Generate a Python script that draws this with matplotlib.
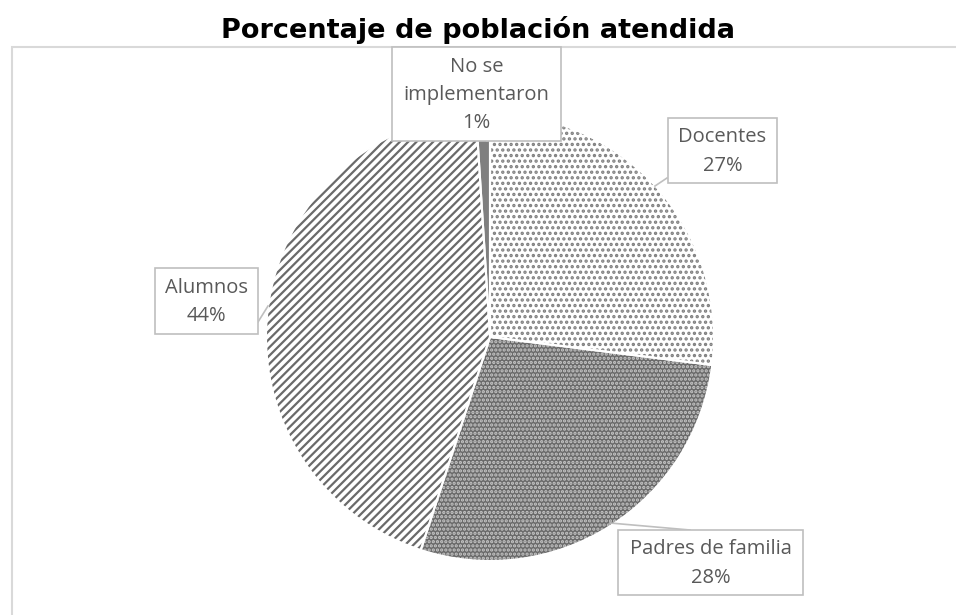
import matplotlib
matplotlib.use("Agg")
import matplotlib.pyplot as plt
import matplotlib.patches as mpatches

# data
categories = ['Docentes', 'Padres de familia', 'Alumnos', 'No se implementaron']
values = [27, 28, 44, 1]
label_text = ['Docentes\n27%', 'Padres de familia\n28%', 'Alumnos\n44%',
              'No se\nimplementaron\n1%']

W, H = 956, 615
plt.rcParams['hatch.linewidth'] = 1.6

fig = plt.figure(figsize=(W / 100, H / 100), dpi=100)
ax = fig.add_axes([0, 0, 1, 1])

def py(y):
    # pixel row -> data y
    return H - y

cx, cy, r = 490, py(337), 224
faces = ['white', '#6a6a6a', 'white', '#7f7f7f']
hatch_cols = ['#7f7f7f', '#c8c8c8', '#6a6a6a', '#7f7f7f']
hatches = ['...', '....', '////', None]

wedges, _ = ax.pie(values, startangle=90, counterclock=False,
                   center=(cx, cy), radius=r, frame=False)
for w, fc, hc, h in zip(wedges, faces, hatch_cols, hatches):
    w.set_facecolor(fc)
    w.set_edgecolor(hc)
    w.set_linewidth(0)
    if h:
        w.set_hatch(h)

# white separators between slices
sep, _ = ax.pie(values, startangle=90, counterclock=False,
                center=(cx, cy), radius=r, frame=False,
                wedgeprops=dict(fill=False, edgecolor='white', linewidth=1.5))

# chart area border
ax.add_patch(mpatches.Rectangle((12, py(620)), 960, 620 - 47, fill=False,
                                edgecolor='#d9d9d9', linewidth=1.5, zorder=0))

# callout boxes: (x0, y0, x1, y1) in pixels, leader line points
boxes = [(668, 118, 777, 183), (618, 530, 803, 595), (155, 268, 258, 334),
         (392, 47, 561, 141)]
leaders = [[(667, 178), (655, 186)], [(690, 530), (610, 523)],
           [(258, 322), (268, 306)], [(487, 141), (487, 132)]]
txt_col = '#595959'
for (x0, y0, x1, y1), lbl, ld in zip(boxes, label_text, leaders):
    ax.plot([p[0] for p in ld], [py(p[1]) for p in ld], color='#bfbfbf',
            lw=1.2, zorder=4)
    ax.add_patch(mpatches.Rectangle((x0, py(y1)), x1 - x0, y1 - y0,
                                    facecolor='white', edgecolor='#bfbfbf',
                                    linewidth=1.2, zorder=5))
    ax.text((x0 + x1) / 2, py((y0 + y1) / 2 + 1), lbl, ha='center',
            va='center', fontsize=14.5, color=txt_col, family='Open Sans',
            linespacing=1.55, zorder=6)

ax.text(478, py(30), 'Porcentaje de población atendida', ha='center',
        va='center', fontsize=19.5, fontweight='bold', family='DejaVu Sans',
        color='black')

ax.set_xlim(0, W)
ax.set_ylim(0, H)
ax.set_aspect('auto')
ax.axis('off')

plt.savefig('out.png', dpi=100)
